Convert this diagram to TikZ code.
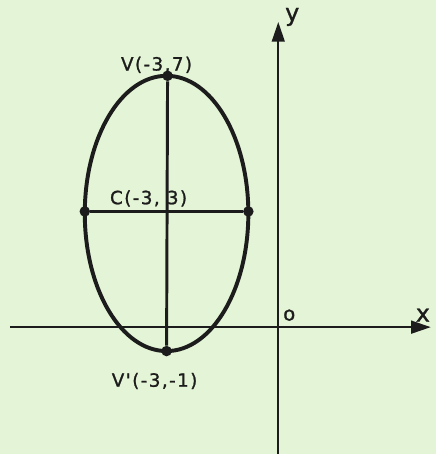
\documentclass[tikz,border=0pt]{standalone}
\usepackage{fontspec}
\newfontfamily\lettering[LetterSpace=8, FakeBold=1.2]{DejaVu Sans}
\usetikzlibrary{arrows.meta,positioning}
\definecolor{scanPaper}{HTML}{E4F4D6}
\definecolor{scanInk}{HTML}{1C1C1C}

\begin{document}
\begin{tikzpicture}[
    x=0.025cm, y=-0.025cm,
    curve/.style={draw=scanInk, line width=2.8pt},
    half/.style={draw=scanInk, line width=2.1pt},
    axis/.style={draw=scanInk, line width=1.7pt, -{Triangle[length=14pt, width=9pt]}},
    dot/.style={circle, fill=scanInk, inner sep=0pt, minimum size=7.5pt},
    lbl/.style={font=\lettering\fontsize{13}{14}\selectfont, text=scanInk, inner sep=1pt},
    axlbl/.style={font=\lettering\fontsize{17}{18}\selectfont, text=scanInk, inner sep=1pt},
]

% ===== paper =====
\fill[scanPaper] (0,0) rectangle (437,455);

% ===== axes =====
\coordinate (xstart) at (10,328);
\coordinate (xend) at (432,328);
\coordinate (ystart) at (279,455);
\coordinate (yend) at (279,22);
\draw[axis] (xstart) -- (xend);
\draw[axis] (ystart) -- (yend);
\node[axlbl] (xlab) at (424,316) {x};
\node[axlbl] (ylab) at (293,17) {y};
\node[font=\lettering\fontsize{14}{15}\selectfont, text=scanInk] (orig) at (290,316) {o};

% ===== ellipse =====
\coordinate (C) at (167,214);
\draw[curve] (C) ellipse [x radius=82, y radius=138];

% vertices and ends of the minor axis
\node[dot] (V) at (168,76) {};
\node[dot] (Vp) at (167,352) {};
\node[dot] (B1) at (85,212) {};
\node[dot] (B2) at (249,212) {};
\draw[half] (V) -- (Vp);
\draw[half] (B1) -- (B2);

% ===== labels =====
\node[lbl] (Vlab) at (157,65) {V(-3,7)};
\node[lbl] (Clab) at (149,199) {C(-3, 3)};
\node[lbl] (Vplab) at (155,382) {V'(-3,-1)};

\end{tikzpicture}
\end{document}
